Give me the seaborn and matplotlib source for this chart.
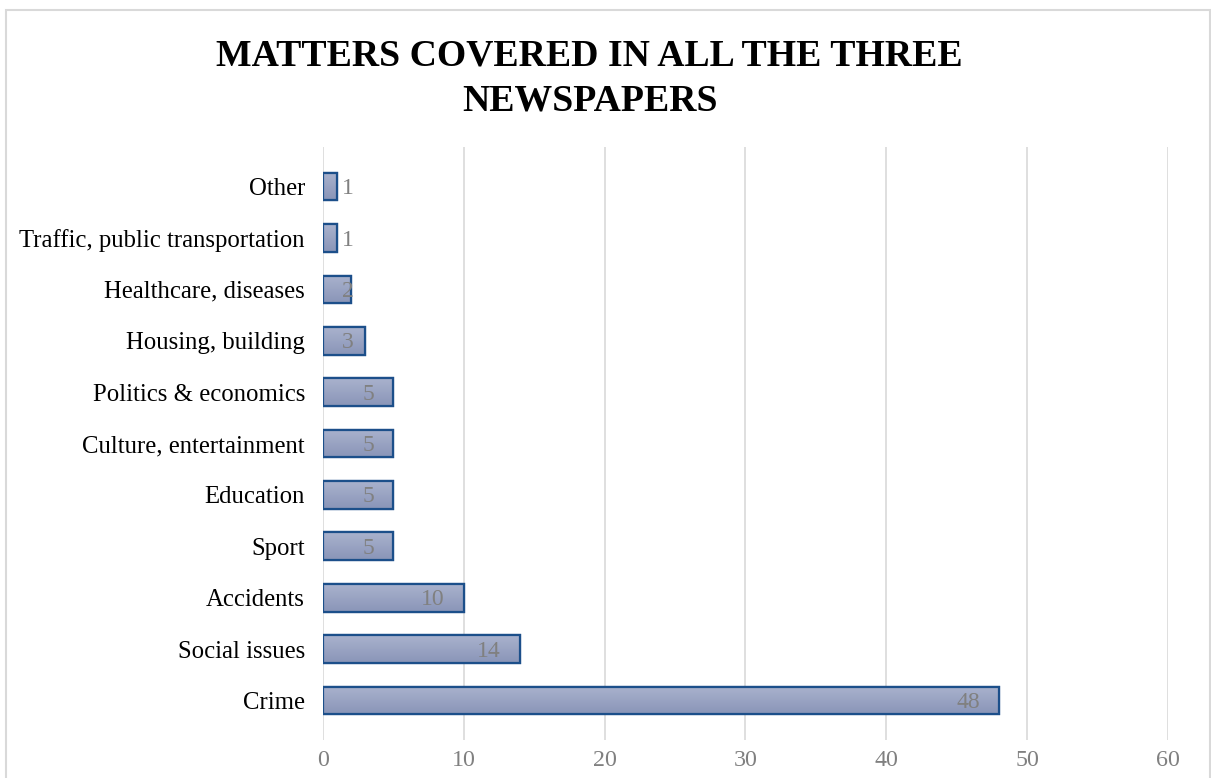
import matplotlib.pyplot as plt
import seaborn as sns
import pandas as pd
import numpy as np
from matplotlib.patches import Rectangle
from matplotlib.colors import LinearSegmentedColormap

categories = ["Crime", "Social issues", "Accidents", "Sport", "Education",
              "Culture, entertainment", "Politics & economics", "Housing, building",
              "Healthcare, diseases", "Traffic, public transportation", "Other"]
counts = [48, 14, 10, 5, 5, 5, 5, 3, 2, 1, 1]
x_ticks = [0, 10, 20, 30, 40, 50, 60]

sns.set_theme(style="white")
plt.rcParams['font.family'] = ['Liberation Serif', 'DejaVu Serif']

df = pd.DataFrame({"Matter": categories, "Count": counts})
# top of chart shows the last category
df = df.iloc[::-1].reset_index(drop=True)

fig = plt.figure(figsize=(12.11, 7.78), dpi=100)
ax = fig.add_axes([0.2667, 0.0488, 0.6978, 0.7622])

sns.barplot(data=df, x="Count", y="Matter", orient="h", ax=ax,
            color="#97a1c1", edgecolor="#1c4f8a", linewidth=1.6,
            width=0.54, saturation=1, zorder=2)

ax.set_xlim(0, 60)
ax.set_ylim(10.77, -0.77)

# soft vertical gradient inside each bar
grad = np.linspace(0, 1, 64).reshape(-1, 1)
cmap = LinearSegmentedColormap.from_list("barfill", ["#a9b2cd", "#8a95b8"])
for p in list(ax.patches):
    x0, y0 = p.get_x(), p.get_y()
    w, h = p.get_width(), p.get_height()
    im = ax.imshow(grad, cmap=cmap, aspect="auto", origin="upper",
                   extent=[x0, x0 + w, y0 + h, y0], zorder=2.1)
    im.set_clip_path(p)
    ax.add_patch(Rectangle((x0, y0), w, h, fill=False, edgecolor="#1c4f8a",
                           linewidth=1.6, zorder=2.2))

ax.set_xlim(0, 60)
ax.set_ylim(10.77, -0.77)

gap = 1.35      # ~19 px inside the bar end
digit_w = 0.82
for i, v in enumerate(df["Count"]):
    label = str(v)
    yy = i + 0.04
    if v < 2:
        ax.text(v + 0.35, yy, label, ha="left", va="center",
                fontsize=17, color="#808080", zorder=3)
    else:
        right = v - gap
        if right - digit_w * len(label) < gap:
            ax.text(gap, yy, label, ha="left", va="center",
                    fontsize=17, color="#808080", zorder=3)
        else:
            ax.text(right, yy, label, ha="right", va="center",
                    fontsize=17, color="#808080", zorder=3)

ax.set_xticks(x_ticks)
ax.set_xticklabels([str(t) for t in x_ticks], fontsize=17.3, color="#808080")
ax.tick_params(axis="y", labelsize=17.8, labelcolor="black", length=0, pad=13)
ax.tick_params(axis="x", length=0, pad=7)
ax.grid(axis="x", color="#d9d9d9", linewidth=1.2, zorder=0)
ax.set_axisbelow(True)
for s in ax.spines.values():
    s.set_visible(False)
ax.set_xlabel("")
ax.set_ylabel("")

fig.text(0.487, 0.899, "MATTERS COVERED IN ALL THE THREE\nNEWSPAPERS", ha="center",
         va="center", fontsize=27.2, fontweight="bold", linespacing=1.36, color="black")

# outer chart frame
fig.patches.append(Rectangle((0.005, -0.01), 0.994, 0.997, transform=fig.transFigure,
                             fill=False, edgecolor="#d9d9d9", linewidth=1.5))

fig.savefig("out.png", dpi=100)
